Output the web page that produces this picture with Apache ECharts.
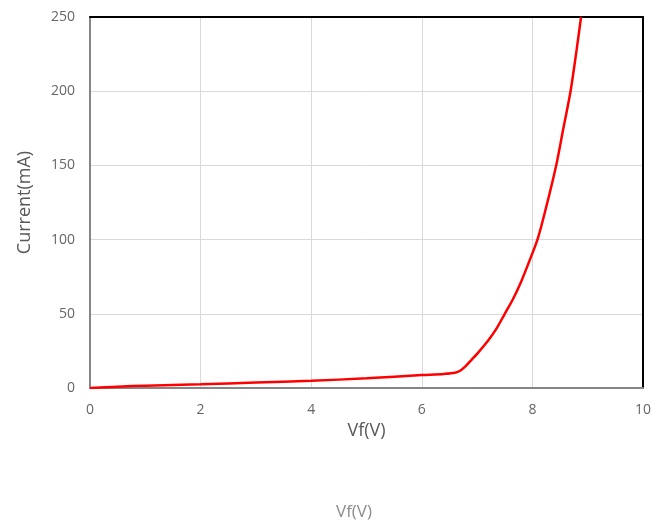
<!DOCTYPE html>
<html><head><meta charset="utf-8">
<script src="https://cdn.jsdelivr.net/npm/echarts@6/dist/echarts.min.js"></script>
<style>html,body{margin:0;padding:0;background:#fff}#c{width:666px;height:525px}</style>
</head><body><div id="c"></div>
<script>
const voltage = [0, 0.5, 1, 2, 3, 4, 5, 6, 6.4, 6.6, 6.7, 6.8, 6.9, 7.0, 7.2, 7.35, 7.5, 7.65, 7.8, 7.95, 8.1, 8.25, 8.43, 8.56, 8.69, 8.8, 8.88];
const current = [0, 0.9, 1.6, 2.5, 3.7, 4.9, 6.5, 8.7, 9.5, 10.3, 11.8, 15, 19, 23, 32, 40, 50, 60, 72, 86, 101, 122, 150, 175, 200, 228, 250];
const xTicks = [0, 2, 4, 6, 8, 10];
const yTicks = [0, 50, 100, 150, 200, 250];

const chart = echarts.init(document.getElementById('c'));
const font = '"Open Sans", "Noto Sans", sans-serif';
chart.setOption({
  animation: false,
  grid: {left: 90, right: 23, top: 17, bottom: 137},
  xAxis: [{
    type: 'value', min: 0, max: 10, interval: 2,
    name: 'Vf(V)', nameLocation: 'middle', nameGap: 23,
    nameTextStyle: {color: '#595959', fontSize: 18, fontFamily: font},
    axisLine: {onZero: false, lineStyle: {color: '#868686', width: 2}},
    axisTick: {show: false},
    axisLabel: {color: '#666666', fontSize: 14, fontFamily: font, margin: 15,
      formatter: v => xTicks.includes(v) ? String(v) : ''},
    splitLine: {lineStyle: {color: '#d9d9d9', width: 1}}
  }, {
    type: 'value', min: 0, max: 10, position: 'top',
    axisLine: {show: true, onZero: false, lineStyle: {color: '#000', width: 2}},
    axisTick: {show: false}, axisLabel: {show: false}, splitLine: {show: false}
  }],
  yAxis: [{
    type: 'value', min: 0, max: 250, interval: 50,
    name: 'Current(mA)', nameLocation: 'middle', nameGap: 56, nameRotate: 90,
    nameTextStyle: {color: '#595959', fontSize: 18, fontFamily: font},
    axisLine: {show: true, onZero: false, lineStyle: {color: '#868686', width: 2}},
    axisTick: {show: false},
    axisLabel: {color: '#666666', fontSize: 14, fontFamily: font, margin: 15,
      formatter: v => yTicks.includes(v) ? String(v) : ''},
    splitLine: {lineStyle: {color: '#d9d9d9', width: 1}}
  }, {
    type: 'value', min: 0, max: 250, position: 'right',
    axisLine: {show: true, onZero: false, lineStyle: {color: '#000', width: 2}},
    axisTick: {show: false}, axisLabel: {show: false}, splitLine: {show: false}
  }],
  graphic: [{
    type: 'text', left: 336, top: 504,
    style: {text: 'Vf(V)', fill: '#8c8c8c', fontSize: 17, fontFamily: font}
  }],
  series: [{
    type: 'line', smooth: 0.3, showSymbol: false,
    data: voltage.map((v, i) => [v, current[i]]),
    lineStyle: {color: '#ff0000', width: 2.5}
  }]
});
</script></body></html>
